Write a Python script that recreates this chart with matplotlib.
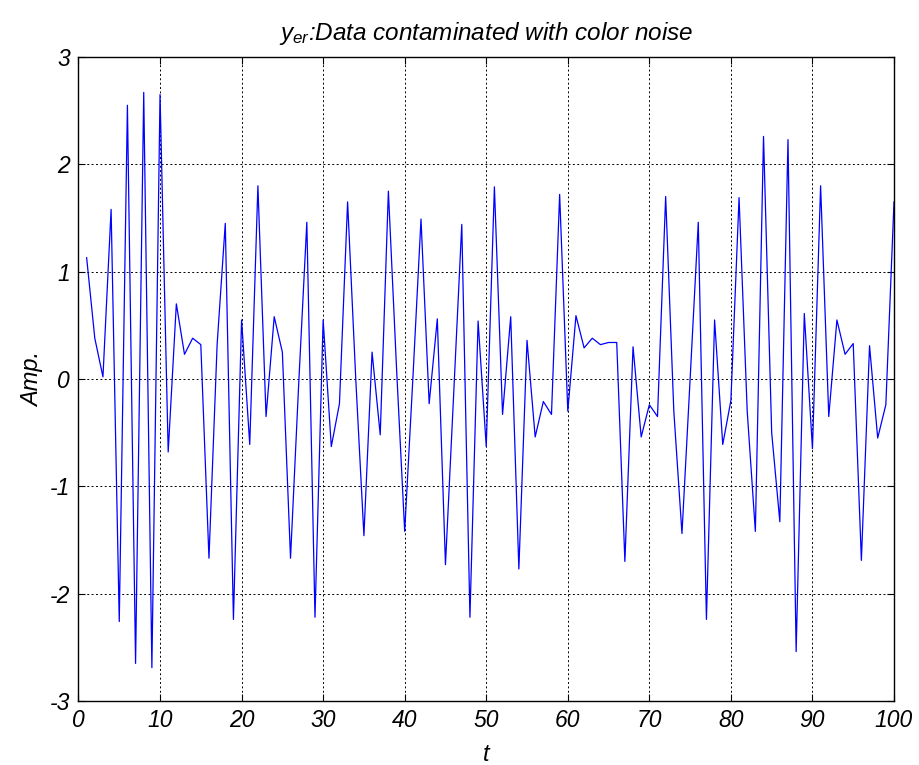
import numpy as np
import matplotlib
matplotlib.use("Agg")
import matplotlib.pyplot as plt

plt.rcParams['font.family'] = ['Liberation Sans', 'DejaVu Sans']
plt.rcParams['mathtext.fontset'] = 'custom'
plt.rcParams['mathtext.rm'] = 'Liberation Sans'
plt.rcParams['mathtext.it'] = 'Liberation Sans:italic'
plt.rcParams['axes.unicode_minus'] = False

# time index and measured amplitude (with colored noise)
t = np.arange(1, 101)
y_er = [
    1.13, 0.38, 0.02, 1.58, -2.26, 2.55, -2.65, 2.67, -2.69, 2.65,
    -0.68, 0.70, 0.23, 0.38, 0.32, -1.67, 0.32, 1.45, -2.24, 0.55,
    -0.61, 1.80, -0.35, 0.58, 0.25, -1.67, -0.05, 1.46, -2.22, 0.55,
    -0.63, -0.23, 1.65, 0.00, -1.46, 0.25, -0.52, 1.75, 0.10, -1.42,
    0.00, 1.49, -0.23, 0.56, -1.73, -0.15, 1.44, -2.22, 0.54, -0.63,
    1.79, -0.33, 0.58, -1.77, 0.36, -0.54, -0.21, -0.33, 1.72, -0.30,
    0.59, 0.29, 0.38, 0.32, 0.34, 0.34, -1.70, 0.30, -0.54, -0.24,
    -0.35, 1.70, -0.30, -1.44, 0.00, 1.46, -2.24, 0.55, -0.61, -0.20,
    1.69, -0.30, -1.42, 2.26, -0.50, -1.33, 2.23, -2.54, 0.61, -0.65,
    1.80, -0.35, 0.55, 0.23, 0.33, -1.69, 0.31, -0.55, -0.24, 1.65,
]

xticks = np.arange(0, 101, 10)
yticks = np.arange(-3, 4, 1)

fig = plt.figure(figsize=(9.19, 7.65), dpi=100)
ax = fig.add_axes([0.0854, 0.0837, 0.8874, 0.8418])

ax.plot(t, y_er, color='blue', linewidth=0.9)

ax.set_xlim(0, 100)
ax.set_ylim(-3, 3)
ax.set_xticks(xticks)
ax.set_yticks(yticks)
ax.tick_params(direction='in', top=True, right=True, length=5,
               labelsize=16.5, pad=6)
for lab in ax.get_xticklabels() + ax.get_yticklabels():
    lab.set_fontstyle('italic')

ax.grid(True, color='black', linestyle=(0, (2, 2.5)), linewidth=0.7)
for s in ax.spines.values():
    s.set_linewidth(1.0)

ax.set_title(r'$y_{er}$:Data contaminated with color noise',
             fontsize=17.5, fontstyle='italic', pad=12)
ax.set_xlabel('t', fontsize=17, fontstyle='italic', labelpad=8)
ax.set_ylabel('Amp.', fontsize=17, fontstyle='italic', labelpad=4)

fig.savefig('out.png', dpi=100)
